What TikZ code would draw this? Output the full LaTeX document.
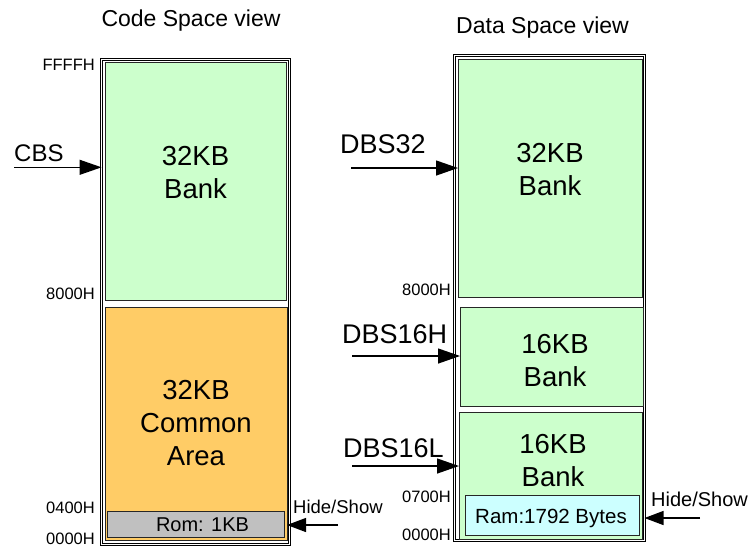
\documentclass[tikz,border=0pt]{standalone}
\usepackage{fontspec}
\setmainfont{Liberation Sans}
\usetikzlibrary{arrows.meta}
\definecolor{bankgreen}{HTML}{CCFFCC}
\definecolor{commonorange}{HTML}{FFCC66}
\definecolor{romgray}{HTML}{C0C0C0}
\definecolor{ramcyan}{HTML}{CCFFFF}
\tikzset{
  outerbox/.style={draw=black, double=white, double distance=1.6pt, line width=0.75pt, inner sep=0pt, outer sep=0pt, anchor=north west},
  membox/.style={draw=black!85, line width=1pt, inner sep=0pt, outer sep=0pt, anchor=north west},
  bigtxt/.style={font=\fontsize{27.5}{33}\selectfont, align=center, inner sep=0pt},
  sigtxt/.style={font=\fontsize{27}{33}\selectfont, inner sep=0pt, anchor=base west},
  addr/.style={font=\fontsize{16.5}{19}\selectfont, inner sep=0pt, anchor=east},
  titletxt/.style={font=\fontsize{23}{27}\selectfont, inner sep=0pt, anchor=base},
  smalltxt/.style={font=\fontsize{20}{24}\selectfont, inner sep=0pt, anchor=base},
  arr/.style={-{Triangle[length=22pt,width=15pt]}, line width=1.3pt},
  harr/.style={-{Triangle[length=19pt,width=14pt]}, line width=1.3pt},
}
\begin{document}
\begin{tikzpicture}[x=1pt,y=-1pt]
\useasboundingbox (0,0) rectangle (751,550);
% ---------- Code space ----------
\node[titletxt] (codeTitle) at (191,26.7) {Code Space view};
\node[outerbox, minimum width=188pt, minimum height=485pt] (codeOuter) at (101.5,59.5) {};
\node[membox, fill=bankgreen, minimum width=181pt, minimum height=238pt] (codeBank) at (105,62) {};
\node[bigtxt] (codeBankTxt) at (195.5,172.7) {32KB\\Bank};
\node[membox, fill=commonorange, minimum width=182pt, minimum height=233pt] (common) at (105,307) {};
\node[bigtxt] (commonTxt) at (196,422.8) {32KB\\Common\\Area};
\node[membox, fill=romgray, minimum width=177pt, minimum height=26pt] (rom) at (107,511) {};
\node[smalltxt] (romTxt) at (202.5,531.7) {Rom: 1KB};
\node[addr] (aFFFF) at (95,65) {FFFFH};
\node[addr] (a8000c) at (95,294) {8000H};
\node[addr] (a0400) at (95,508) {0400H};
\node[addr] (a0000c) at (95,539) {0000H};
\node[font=\fontsize{24}{28}\selectfont, inner sep=0pt, anchor=base west] (cbs) at (14,161.7) {CBS};
\coordinate (cbsStart) at (14,167.3);
\draw[arr] (cbsStart) -- (codeOuter.west |- cbsStart);
\node[font=\fontsize{18.5}{22}\selectfont, inner sep=0pt, anchor=base west] (hsL) at (293,513.3) {Hide/Show};
\coordinate (hsLStart) at (338,525);
\draw[harr] (hsLStart) -- (common.east |- hsLStart);
% ---------- Data space ----------
\node[titletxt] (dataTitle) at (542.5,33.3) {Data Space view};
\node[outerbox, minimum width=190pt, minimum height=485pt] (dataOuter) at (454.5,55.5) {};
\node[membox, fill=bankgreen, minimum width=184pt, minimum height=238pt] (dataBank) at (458,59) {};
\node[bigtxt] (dataBankTxt) at (550,170) {32KB\\Bank};
\node[membox, fill=bankgreen, minimum width=183pt, minimum height=99pt] (bankH) at (460,307) {};
\node[bigtxt] (bankHTxt) at (555,361) {16KB\\Bank};
\node[membox, fill=bankgreen, minimum width=183pt, minimum height=127pt] (bankL) at (459,412) {};
\node[bigtxt] (bankLTxt) at (553,461) {16KB\\Bank};
\node[membox, fill=ramcyan, minimum width=174pt, minimum height=40pt] (ram) at (465,495) {};
\node[smalltxt, font=\fontsize{20.5}{24}\selectfont] (ramTxt) at (551,523.3) {Ram:1792 Bytes};
\node[addr] (a8000d) at (451,290) {8000H};
\node[addr] (a0700) at (451,497) {0700H};
\node[addr] (a0000d) at (451,535) {0000H};
\node[sigtxt] (dbs32) at (340,153) {DBS32};
\coordinate (dbs32Start) at (351,168);
\draw[arr] (dbs32Start) -- (dataBank.west |- dbs32Start);
\node[sigtxt] (dbs16h) at (342,343) {DBS16H};
\coordinate (dbs16hStart) at (352,356);
\draw[arr] (dbs16hStart) -- (bankH.west |- dbs16hStart);
\node[sigtxt] (dbs16l) at (343,457) {DBS16L};
\coordinate (dbs16lStart) at (352,466);
\draw[arr] (dbs16lStart) -- (bankL.west |- dbs16lStart);
\node[font=\fontsize{20}{24}\selectfont, inner sep=0pt, anchor=base west] (hsR) at (651,506.7) {Hide/Show};
\coordinate (hsRStart) at (700,518);
\draw[harr] (hsRStart) -- (dataOuter.east |- hsRStart);
\end{tikzpicture}
\end{document}
